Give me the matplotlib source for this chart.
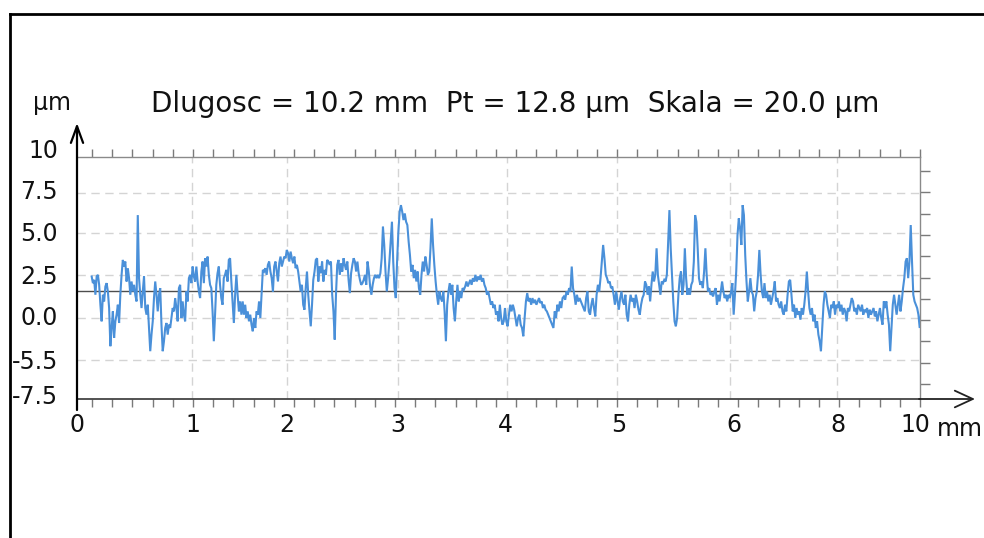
import numpy as np
import matplotlib
matplotlib.use("Agg")
import matplotlib.pyplot as plt
from matplotlib.lines import Line2D
from matplotlib.transforms import blended_transform_factory, offset_copy

plt.rcParams['font.family'] = ['DejaVu Sans']

# ---------------- texts / labels ----------------
title_text = "Dlugosc = 10.2 mm  Pt = 12.8 µm  Skala = 20.0 µm"
y_unit = "µm"
x_unit = "mm"
x_tick_labels = ['0', '1', '2', '3', '4', '5', '6', '8', '10']
x_tick_pos = [0.0, 1.37, 2.49, 3.80, 5.08, 6.43, 7.79, 9.03, 9.94]
y_tick_labels = ['10', '7.5', '5.0', '2.5', '0.0', '-5.5', '-7.5']
y_tick_pos = [10.18, 7.71, 5.15, 2.56, 0.12, -2.53, -4.67]
x_grid = [1.364, 2.49, 3.81, 5.10, 6.41, 7.75, 9.02]
y_grid = [7.53, 5.12, 2.59, 0.0, -2.53]
mean_level = 1.6

# ---------------- profile data (µm), six consecutive stretches ----------------
segment_edges = [0.174, 1.756, 3.416, 5.077, 6.738, 8.399, 10.027]

profile_a = [2.5, 2.1, 2.3, 1.4, 2.5, 2.6, 2.0, 0.8, -0.2, 1.4,
             1.0, 1.9, 2.1, 1.6, 0.6, -1.7, -0.6, 0.4, -1.2, -0.2,
             0.2, 0.8, -0.3, 1.4, 2.6, 3.5, 3.1, 3.4, 2.2, 3.0,
             2.4, 1.4, 2.2, 1.6, 2.0, 1.4, 1.0, 6.2, 2.4, 1.4,
             0.6, 1.6, 2.5, 0.6, 0.2, 0.8, -0.6, -2.0, -1.0, -0.2,
             1.2, 2.2, 1.4, 0.4, 1.4, 1.8, -0.4, -2.0, -1.4, -0.6,
             -0.3, -1.0, -0.4, -0.6, 0.0, 0.6, 0.4, 1.2, 0.6, -0.2,
             1.8, 2.0, 0.0, 1.0, 0.2, -0.2, 1.6, 1.0, 2.4, 2.6,
             2.1, 3.1, 2.5, 2.2, 3.1, 2.2, 1.6, 1.2, 2.8, 3.4,
             2.1, 3.6, 3.1, 3.7, 2.6, 2.0, 1.8, 0.4, -1.4, 0.2,
             2.0, 2.7, 3.1, 2.0, 1.2, 0.8, 2.4]

profile_b = [2.6, 2.9, 2.2, 3.5, 3.6, 2.2, 1.0, -0.3, 1.4, 2.6,
             1.4, 0.4, 1.0, 0.2, 1.0, 0.2, 0.8, 0.0, 0.4, -0.2,
             0.2, -0.4, -0.8, 0.0, -0.6, 0.4, 0.2, 1.0, 0.0, 1.4,
             2.9, 2.8, 3.0, 2.6, 3.2, 3.4, 2.8, 2.4, 1.6, 3.1,
             3.4, 2.8, 2.2, 3.3, 3.7, 3.1, 3.4, 3.7, 3.6, 4.1,
             3.9, 3.4, 4.0, 3.6, 3.3, 3.7, 3.0, 3.2, 2.8, 2.2,
             1.6, 2.0, 0.8, 0.5, 1.8, 2.8, 1.4, 0.4, -0.5, 0.8,
             2.3, 2.8, 3.5, 3.6, 2.2, 3.1, 2.7, 3.4, 2.2, 2.9,
             2.6, 3.5, 3.4, 3.2, 3.4, 1.4, 0.4, -1.3, 1.4, 3.2,
             3.5, 2.6, 3.3, 2.8, 3.6, 3.2, 2.9, 3.4, 2.3, 1.5,
             2.7, 3.2, 3.6, 3.4, 2.8, 3.4, 2.7, 2.3, 2.0, 2.1, 2.3]

profile_c = [2.6, 2.0, 3.4, 2.8, 1.9, 1.4, 2.0, 2.4, 2.6, 2.4,
             2.6, 2.4, 2.7, 3.6, 5.5, 4.4, 2.8, 1.6, 2.4, 3.4,
             4.6, 5.8, 3.4, 1.8, 1.2, 3.4, 5.2, 6.4, 6.8, 6.4,
             5.9, 6.3, 5.8, 5.6, 4.6, 3.8, 2.8, 3.2, 2.4, 2.9,
             2.2, 2.8, 1.8, 1.4, 2.6, 3.4, 2.8, 3.7, 3.2, 2.6,
             2.8, 4.2, 6.0, 4.4, 3.2, 2.2, 1.4, 0.8, 1.6, 1.2,
             1.0, 1.6, 0.4, -1.4, 0.8, 1.6, 2.1, 1.4, 2.0, 0.6,
             -0.2, 1.0, 2.0, 1.0, 1.6, 1.2, 1.8, 1.7, 1.9, 2.2,
             1.9, 2.1, 2.3, 2.0, 2.4, 2.2, 2.6, 2.2, 2.5, 2.3,
             2.6, 2.2, 2.4, 2.0, 1.8, 1.4, 1.6, 1.2, 0.8, 1.0,
             0.6, 0.8, 0.2, 0.4, -0.2, 0.8, 0.0, -0.4, -0.2]

profile_d = [0.6, -0.2, -0.5, 0.2, 0.8, 0.4, 0.8, 0.5, 0.0, -0.5,
             0.0, 0.2, -0.4, -0.6, -1.1, 0.0, 1.0, 1.5, 1.0, 1.2,
             0.8, 1.2, 0.9, 1.1, 0.8, 1.0, 1.2, 0.9, 1.0, 0.6,
             0.8, 0.5, 0.4, 0.2, 0.0, -0.2, -0.4, -0.6, 0.4, 0.0,
             0.8, 0.4, 1.0, 0.6, 1.2, 1.3, 1.1, 1.6, 1.4, 1.8,
             1.6, 3.1, 1.8, 1.4, 0.8, 1.4, 1.0, 1.2, 1.0, 0.8,
             0.6, 0.4, 1.2, 1.6, 0.4, 0.2, 0.8, 1.2, 0.6, 0.1,
             1.4, 2.0, 1.6, 2.4, 3.4, 4.4, 3.6, 2.6, 2.4, 2.1,
             2.2, 1.8, 1.9, 1.4, 0.8, 1.6, 1.0, 0.5, 1.2, 1.6,
             1.0, 0.8, 1.4, 0.2, -0.2, 0.8, 1.4, 1.0, 1.2, 0.6,
             1.4, 1.0, 0.5, 0.2, 0.8, 1.2, 1.4]

profile_e = [2.2, 2.0, 1.4, 1.9, 1.0, 2.0, 2.8, 2.2, 2.6, 4.2,
             2.6, 2.0, 1.4, 2.2, 2.1, 2.3, 2.2, 2.6, 4.6, 6.5,
             4.2, 2.6, 1.0, -0.2, -0.5, 0.0, 1.4, 2.4, 2.8, 1.4,
             2.0, 4.2, 2.4, 1.4, 1.8, 1.4, 2.0, 2.2, 3.4, 6.2,
             5.8, 4.2, 2.4, 2.0, 2.2, 1.8, 2.8, 4.2, 2.6, 1.6,
             1.8, 1.4, 1.5, 1.3, 1.6, 1.8, 0.8, 1.4, 1.0, 1.6,
             2.2, 1.6, 1.2, 1.4, 1.0, 1.4, 1.2, 1.6, 2.1, 0.2,
             1.4, 2.8, 5.0, 6.0, 5.4, 4.4, 6.8, 6.2, 3.8, 2.2,
             1.0, 1.6, 2.4, 1.6, 1.4, 0.4, 1.2, 1.6, 2.6, 4.1,
             2.6, 1.6, 1.2, 2.1, 1.2, 1.6, 1.0, 1.4, 0.8, 1.2,
             1.6, 2.2, 1.0, 1.2, 0.8, 0.6, 1.0, 0.4, 0.2]

profile_f = [0.8, 0.4, 1.4, 2.2, 2.3, 1.4, 0.4, 0.8, 0.0, 0.6,
             0.2, 0.4, -0.1, 0.6, 0.2, 0.8, 1.6, 2.8, 1.6, 0.6,
             0.2, 0.6, -0.2, 0.2, -0.6, -0.2, -1.0, -1.4, -2.0, -0.6,
             0.8, 1.6, 1.4, 0.8, 0.4, 0.0, 0.8, 0.6, 1.0, 0.2,
             0.8, 0.6, 1.0, 0.4, 0.8, 0.2, 0.6, 0.4, -0.2, 0.6,
             0.4, 0.8, 1.2, 1.0, 0.4, 0.6, 0.2, 0.8, 0.6, 0.4,
             0.8, 0.2, 0.5, 0.4, 0.6, 0.0, 0.5, 0.2, 0.4, 0.6,
             0.1, 0.4, -0.2, 0.2, 0.6, 0.0, -0.4, 1.0, 0.6, 1.0,
             0.2, -0.4, -2.0, -0.6, 0.8, 1.4, 0.8, 0.2, 0.8, 1.4,
             0.4, 1.0, 1.8, 2.4, 3.4, 3.6, 2.4, 3.4, 5.6, 3.4,
             1.4, 1.0, 0.8, 0.6, 0.2, -0.6, 0.2]

segments = [profile_a, profile_b, profile_c, profile_d, profile_e, profile_f]

# ---------------- build sample positions ----------------
xs, ys = [], []
for k, seg in enumerate(segments):
    xs.append(np.linspace(segment_edges[k], segment_edges[k + 1], len(seg), endpoint=False))
    ys.append(np.asarray(seg, dtype=float))
x = np.concatenate(xs)
y = np.concatenate(ys)

# ---------------- figure ----------------
W, H = 984, 538
fig = plt.figure(figsize=(W / 100, H / 100), dpi=100)
fig.patch.set_facecolor('white')
ax = fig.add_axes([77 / W, 1 - 399 / H, 843 / W, 242 / H])
ax.set_xlim(0, 10)
ax.set_ylim(-4.88, 9.70)

grid_kw = dict(color='#d4d4d4', lw=1.0, ls=(0, (6, 4)), zorder=1)
for gx in x_grid:
    ax.axvline(gx, **grid_kw)
for gy in y_grid:
    ax.axhline(gy, **grid_kw)

ax.axhline(mean_level, color='#4d4d4d', lw=1.0, zorder=2)
ax.plot(x, y, color='#4a90d9', lw=1.5, zorder=3, solid_joinstyle='miter')

# spines
ax.spines['left'].set_visible(False)
for s in ('top', 'right'):
    ax.spines[s].set_color('#8a8a8a')
    ax.spines[s].set_linewidth(1.0)
ax.spines['bottom'].set_color('#444444')
ax.spines['bottom'].set_linewidth(1.3)

# x ticks
ax.set_xticks(x_tick_pos)
ax.set_xticklabels(x_tick_labels, fontsize=17, color='#111111')
ax.tick_params(axis='x', which='major', length=0, pad=10)
ax.set_xticks(np.linspace(0.178, 10, 42), minor=True)
ax.tick_params(axis='x', which='minor', direction='out', length=6, width=1,
               color='#7a7a7a', top=True, bottom=True)

# y ticks (right side marks only)
ax.set_yticks([])
ax.set_yticks(np.linspace(-3.98, 8.86, 11), minor=True)
ax.tick_params(axis='y', which='minor', left=False, right=True, direction='out',
               length=7, width=1, color='#7a7a7a')

fs_y = 17
trans = blended_transform_factory(ax.transAxes, ax.transData)
trans = offset_copy(trans, fig=fig, y=-0.365 * fs_y * 100 / 72, units='dots')
for pos, lab in zip(y_tick_pos, y_tick_labels):
    ax.text(-0.0225, pos, lab, ha='right', va='baseline', fontsize=fs_y,
            color='#111111', transform=trans, clip_on=False)

# units and title
fig.text(52 / W, 1 - 110 / H, y_unit, ha='center', va='baseline', fontsize=17, color='#111111')
fig.text(937 / W, 1 - 436 / H, x_unit, ha='left', va='baseline', fontsize=17, color='#111111')
fig.text(515.5 / W, 1 - 112 / H, title_text, ha='center', va='baseline', fontsize=20, color='#111111')

# axis arrows
ax.annotate('', xy=(77, H - 123), xytext=(77, H - 410), xycoords='figure pixels',
            textcoords='figure pixels', annotation_clip=False,
            arrowprops=dict(arrowstyle='->,head_length=0.6,head_width=0.22', lw=1.6,
                            color='black', mutation_scale=20, shrinkA=0, shrinkB=0))
ax.annotate('', xy=(975, H - 399), xytext=(919, H - 399), xycoords='figure pixels',
            textcoords='figure pixels', annotation_clip=False,
            arrowprops=dict(arrowstyle='->,head_length=0.65,head_width=0.3', lw=1.3,
                            color='#222222', mutation_scale=20, shrinkA=0, shrinkB=0))

# outer frame
fig.add_artist(Line2D([10 / W, 10 / W], [0, 1 - 14 / H], transform=fig.transFigure,
                      color='black', lw=2))
fig.add_artist(Line2D([10 / W, 1], [1 - 14 / H, 1 - 14 / H], transform=fig.transFigure,
                      color='black', lw=2))

fig.savefig('out.png', dpi=100)
